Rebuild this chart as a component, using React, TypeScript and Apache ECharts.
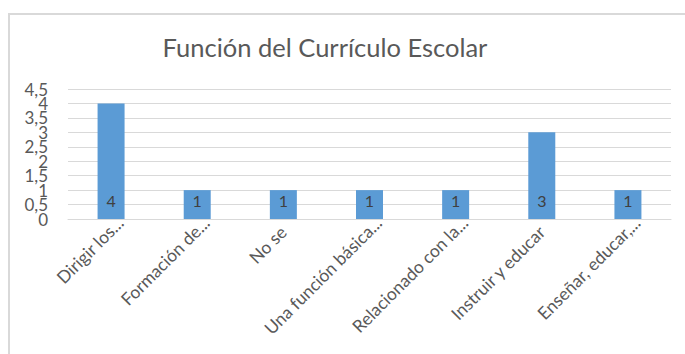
import React, { useEffect, useRef } from "react";
import * as echarts from "echarts";

const chartTitle = "Función del Currículo Escolar";
const categories = [
  "Dirigir los...",
  "Formación de...",
  "No se",
  "Una función básica...",
  "Relacionado con la...",
  "Instruir y educar",
  "Enseñar, educar,...",
];
const values = [4, 1, 1, 1, 1, 3, 1];
const yMin = 0;
const yMax = 4.5;
const yStep = 0.5;
const yTicksWhole = [0, 1, 2, 3, 4];
const yTicksHalf = [0.5, 1.5, 2.5, 3.5, 4.5];

const FONT = "Lato, 'Open Sans', sans-serif";

const yLabelStyle = {
  margin: 20,
  fontFamily: FONT,
  fontSize: 17,
  color: "#595959",
  hideOverlap: false,
  formatter: (v: number) => String(v).replace(".", ","),
};

export default function App() {
  const ref = useRef<HTMLDivElement>(null);
  useEffect(() => {
    if (!ref.current) return;
    const chart = echarts.init(ref.current, undefined, { renderer: "svg" });
    const catData = categories.map((c) =>
      c.endsWith("...")
        ? { value: c, textStyle: { padding: [0, -13, 0, 0] } }
        : { value: c }
    );
    chart.setOption({
      animation: false,
      backgroundColor: "#ffffff",
      textStyle: { fontFamily: FONT },
      graphic: [
        {
          type: "rect",
          shape: { x: 9, y: 14, width: 720, height: 400 },
          style: { fill: "none", stroke: "#d9d9d9", lineWidth: 2 },
          silent: true,
        },
        {
          type: "text",
          x: 325,
          y: 47,
          style: {
            text: chartTitle,
            fontFamily: FONT,
            fontSize: 25.5,
            fill: "#595959",
            textAlign: "center",
            textVerticalAlign: "middle",
          },
        },
      ],
      grid: { left: 68, right: 14, top: 89, bottom: 135, containLabel: false },
      xAxis: {
        type: "category",
        data: catData,
        axisLine: { lineStyle: { color: "#d9d9d9", width: 1 } },
        axisTick: { show: false },
        axisLabel: {
          interval: 0,
          rotate: 45,
          margin: 10,
          fontFamily: FONT,
          fontSize: 17.5,
          color: "#595959",
        },
      },
      yAxis: [
        {
          type: "value",
          position: "left",
          min: yMin,
          max: yMax,
          interval: yStep,
          axisLine: { show: false },
          axisTick: { show: false },
          splitLine: { lineStyle: { color: "#d9d9d9", width: 1 } },
          axisLabel: { ...yLabelStyle, customValues: yTicksWhole },
        },
        {
          type: "value",
          position: "left",
          offset: 0,
          min: yMin,
          max: yMax,
          interval: yStep,
          axisLine: { show: false },
          axisTick: { show: false },
          splitLine: { show: false },
          axisLabel: { ...yLabelStyle, customValues: yTicksHalf },
        },
      ],
      series: [
        {
          type: "bar",
          yAxisIndex: 0,
          data: values,
          barWidth: 27,
          itemStyle: { color: "#5b9bd5" },
          label: {
            show: true,
            position: "insideBottom",
            distance: 11,
            fontFamily: FONT,
            fontSize: 16,
            color: "#404040",
          },
        },
      ],
    });
    return () => chart.dispose();
  }, []);
  return (
    <div
      ref={ref}
      style={{ position: "absolute", left: 0, top: 0, width: 685, height: 354 }}
    />
  );
}
